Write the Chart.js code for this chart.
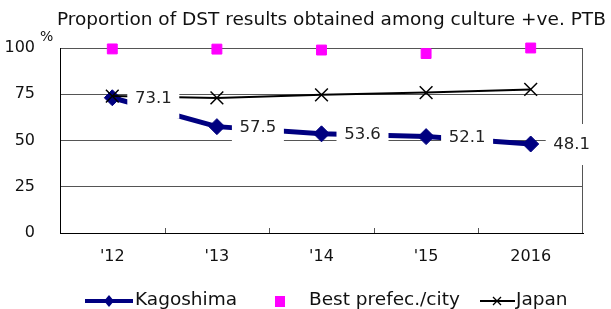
<!DOCTYPE html>
<html>
<head>
<meta charset="utf-8">
<script src="https://cdn.jsdelivr.net/npm/chart.js@4/dist/chart.umd.min.js"></script>
<style>
  body { margin: 0; background: #fff; font-family: "DejaVu Sans", Verdana, sans-serif; color: #111; }
  #wrap { position: relative; width: 611px; height: 309px; overflow: hidden; }
  #chart { position: absolute; left: 0; top: 0; }
  #title { position: absolute; left: 57px; top: 8px; font-size: 18.5px; white-space: nowrap; }
  #pct { position: absolute; left: 40px; top: 28px; font-size: 14px; }
  .leg { position: absolute; top: 288px; font-size: 18.5px; white-space: nowrap; line-height: 22px; }
  .leg canvas { position: absolute; top: 0; }
</style>
</head>
<body>
<div id="wrap">
  <canvas id="chart" width="611" height="309"></canvas>
  <div id="title">Proportion of DST results obtained among culture +ve. PTB</div>
  <div id="pct">%</div>
  <div class="leg" style="left:135px"><canvas id="lg0" width="52" height="22" style="left:-52px"></canvas>Kagoshima</div>
  <div class="leg" style="left:309px"><canvas id="lg1" width="14" height="22" style="left:-36px"></canvas>Best prefec./city</div>
  <div class="leg" style="left:516px"><canvas id="lg2" width="38" height="22" style="left:-38px"></canvas>Japan</div>
</div>
<script>
// data
const years = ["'12", "'13", "'14", "'15", "2016"];
const kagoshima = [73.1, 57.5, 53.6, 52.1, 48.1];
const bestPref = [99.5, 99.4, 98.9, 97.0, 100];
const japan = [74.0, 73.0, 74.7, 75.9, 77.6];
const yTicks = [0, 25, 50, 75, 100];

const NAVY = '#000080';
const PINK = '#ff00ff';

// white boxes with the Kagoshima values, right of each point
const valueBoxes = {
  id: 'valueBoxes',
  afterDatasetsDraw(chart) {
    const ctx = chart.ctx;
    const meta = chart.getDatasetMeta(0);
    ctx.save();
    ctx.font = '16.5px "DejaVu Sans"';
    ctx.textAlign = 'center';
    ctx.textBaseline = 'middle';
    meta.data.forEach((pt, i) => {
      const x = pt.x + 15;
      ctx.fillStyle = '#fff';
      ctx.fillRect(x, pt.y - 20, 52, 41);
      ctx.fillStyle = '#222';
      ctx.fillText(kagoshima[i].toFixed(1), x + 26, pt.y + 1);
    });
    ctx.restore();
  }
};

// right border + small inner tick marks between categories
const frame = {
  id: 'frame',
  beforeDatasetsDraw(chart) {
    const { ctx, chartArea: a, scales: { x } } = chart;
    const half = (x.getPixelForValue(1) - x.getPixelForValue(0)) / 2;
    ctx.save();
    ctx.strokeStyle = '#555';
    ctx.lineWidth = 1;
    ctx.beginPath();
    ctx.moveTo(Math.round(a.right) - 0.5, a.top);
    ctx.lineTo(Math.round(a.right) - 0.5, a.bottom);
    for (let i = 0; i < years.length - 1; i++) {
      const bx = Math.round(x.getPixelForValue(i) + half) + 0.5;
      ctx.moveTo(bx, a.bottom);
      ctx.lineTo(bx, a.bottom - 5);
    }
    ctx.stroke();
    ctx.restore();
  }
};

new Chart(document.getElementById('chart'), {
  type: 'line',
  data: {
    labels: years,
    datasets: [
      {
        label: 'Kagoshima',
        data: kagoshima,
        borderColor: NAVY,
        backgroundColor: NAVY,
        borderWidth: 5,
        pointStyle: 'rectRot',
        pointRadius: 8,
        pointBorderWidth: 1,
        order: 1
      },
      {
        label: 'Best prefec./city',
        data: bestPref,
        showLine: false,
        borderColor: PINK,
        backgroundColor: PINK,
        pointStyle: 'rect',
        pointRadius: 7,
        pointBorderWidth: 1,
        clip: false,
        order: 2
      },
      {
        label: 'Japan',
        data: japan,
        borderColor: '#000',
        backgroundColor: '#000',
        borderWidth: 2,
        pointStyle: 'crossRot',
        pointRadius: 9,
        pointBorderWidth: 1.5,
        order: 0
      }
    ]
  },
  options: {
    responsive: false,
    animation: false,
    layout: { padding: { left: 0, right: 28, top: 48, bottom: 0 } },
    plugins: { legend: { display: false }, tooltip: { enabled: false } },
    scales: {
      x: {
        offset: true,
        grid: { display: false },
        border: { display: true, color: '#000', width: 1 },
        ticks: { color: '#111', font: { family: 'DejaVu Sans', size: 16 }, padding: 6 },
        afterFit: s => { s.height = 309 - 48 - 185; }
      },
      y: {
        min: 0,
        max: 100,
        afterBuildTicks: s => { s.ticks = yTicks.map(v => ({ value: v })); },
        grid: { color: '#555', lineWidth: 1, drawTicks: false },
        border: { display: true, color: '#000', width: 1 },
        ticks: { color: '#111', font: { family: 'DejaVu Sans', size: 16 }, padding: 25 },
        afterFit: s => { s.width = 60; }
      }
    }
  },
  plugins: [frame, valueBoxes]
});

// legend symbols
function sym(id, draw) {
  const c = document.getElementById(id).getContext('2d');
  draw(c);
}
sym('lg0', c => {
  c.fillStyle = NAVY;
  c.fillRect(2, 11, 48, 4);
  c.beginPath();
  c.moveTo(26, 7); c.lineTo(31, 13); c.lineTo(26, 19); c.lineTo(21, 13); c.closePath();
  c.fill();
});
sym('lg1', c => {
  c.fillStyle = PINK;
  c.fillRect(2, 8, 10, 11);
});
sym('lg2', c => {
  c.strokeStyle = '#000';
  c.lineWidth = 2;
  c.beginPath(); c.moveTo(2, 13); c.lineTo(37, 13); c.stroke();
  c.lineWidth = 1.3;
  c.beginPath();
  c.moveTo(15, 9); c.lineTo(23, 17); c.moveTo(23, 9); c.lineTo(15, 17);
  c.stroke();
});
</script>
</body>
</html>
